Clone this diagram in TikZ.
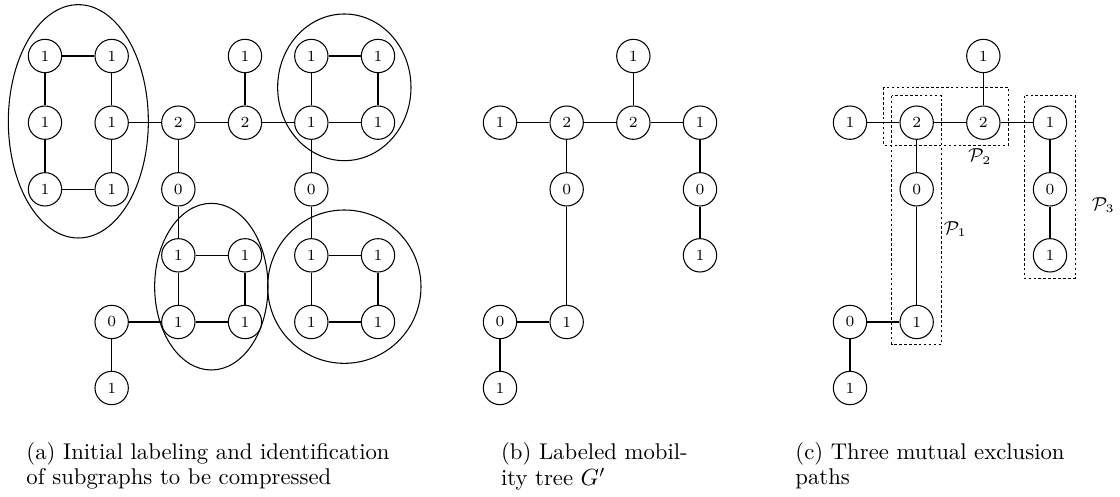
\documentclass[tikz,border=0pt]{standalone}
\usetikzlibrary{positioning}
\begin{document}
\begin{tikzpicture}[
  v/.style={circle,draw,line width=0.45pt,minimum size=0.5cm,inner sep=0pt,font=\fontsize{6.6}{7.5}\selectfont},
  e/.style={line width=0.45pt},
  grp/.style={draw,line width=0.45pt},
  pbox/.style={draw,line width=0.4pt,dash pattern=on 1.1pt off 1pt},
  plab/.style={font=\fontsize{7.8}{9}\selectfont,inner sep=0pt},
  captext/.style={anchor=base west,inner sep=0pt,font=\fontsize{9.7}{10.7}\selectfont}
]
\useasboundingbox (0,0) rectangle (16.8,-7.455);

% ---------- panel (a) ----------
\def\ya{-0.84}\def\yb{-1.84}\def\yc{-2.84}\def\yd{-3.83}\def\ye{-4.83}\def\yf{-5.82}
\node[v] (a00) at (0.675,\ya) {1};
\node[v] (a10) at (1.675,\ya) {1};
\node[v] (a01) at (0.675,\yb) {1};
\node[v] (a11) at (1.675,\yb) {1};
\node[v] (a02) at (0.675,\yc) {1};
\node[v] (a12) at (1.675,\yc) {1};
\node[v] (a21) at (2.675,\yb) {2};
\node[v] (a31) at (3.675,\yb) {2};
\node[v] (a30) at (3.675,\ya) {1};
\node[v] (a40) at (4.67,\ya) {1};
\node[v] (a50) at (5.67,\ya) {1};
\node[v] (a41) at (4.67,\yb) {1};
\node[v] (a51) at (5.67,\yb) {1};
\node[v] (a22) at (2.675,\yc) {0};
\node[v] (a42) at (4.67,\yc) {0};
\node[v] (a23) at (2.675,\yd) {1};
\node[v] (a33) at (3.675,\yd) {1};
\node[v] (a24) at (2.675,\ye) {1};
\node[v] (a34) at (3.675,\ye) {1};
\node[v] (a14) at (1.675,\ye) {0};
\node[v] (a15) at (1.675,\yf) {1};
\node[v] (a43) at (4.67,\yd) {1};
\node[v] (a53) at (5.67,\yd) {1};
\node[v] (a44) at (4.67,\ye) {1};
\node[v] (a54) at (5.67,\ye) {1};

\draw[e] (a00)--(a10) (a00)--(a01) (a01)--(a02) (a02)--(a12) (a10)--(a11) (a11)--(a12);
\draw[e] (a11)--(a21) (a21)--(a31) (a30)--(a31) (a31)--(a41);
\draw[e] (a40)--(a50) (a40)--(a41) (a50)--(a51) (a41)--(a51);
\draw[e] (a21)--(a22) (a22)--(a23) (a41)--(a42) (a42)--(a43);
\draw[e] (a23)--(a33) (a23)--(a24) (a33)--(a34) (a24)--(a34);
\draw[e] (a14)--(a24) (a14)--(a15);
\draw[e] (a43)--(a53) (a43)--(a44) (a53)--(a54) (a44)--(a54);

\draw[grp] (1.175,-1.82) ellipse [x radius=1.05cm, y radius=1.75cm];
\draw[grp] (5.165,-1.31) ellipse [x radius=1.0cm, y radius=1.1cm];
\draw[grp] (3.17,-4.3) ellipse [x radius=0.85cm, y radius=1.25cm];
\draw[grp] (5.165,-4.3) circle [radius=1.15cm];

% ---------- panel (b) ----------
\node[v] (b01) at (7.5,\yb) {1};
\node[v] (b11) at (8.5,\yb) {2};
\node[v] (b21) at (9.5,\yb) {2};
\node[v] (b31) at (10.5,\yb) {1};
\node[v] (b20) at (9.5,\ya) {1};
\node[v] (b12) at (8.5,\yc) {0};
\node[v] (b14) at (8.5,\ye) {1};
\node[v] (b04) at (7.5,\ye) {0};
\node[v] (b05) at (7.5,\yf) {1};
\node[v] (b32) at (10.5,\yc) {0};
\node[v] (b33) at (10.5,\yd) {1};
\draw[e] (b01)--(b11) (b11)--(b21) (b21)--(b31) (b20)--(b21);
\draw[e] (b11)--(b12) (b12)--(b14) (b04)--(b14) (b04)--(b05);
\draw[e] (b31)--(b32) (b32)--(b33);

% ---------- panel (c) ----------
\node[v] (c01) at (12.75,\yb) {1};
\node[v] (c11) at (13.75,\yb) {2};
\node[v] (c21) at (14.75,\yb) {2};
\node[v] (c31) at (15.75,\yb) {1};
\node[v] (c20) at (14.75,\ya) {1};
\node[v] (c12) at (13.75,\yc) {0};
\node[v] (c14) at (13.75,\ye) {1};
\node[v] (c04) at (12.75,\ye) {0};
\node[v] (c05) at (12.75,\yf) {1};
\node[v] (c32) at (15.75,\yc) {0};
\node[v] (c33) at (15.75,\yd) {1};
\draw[e] (c01)--(c11) (c11)--(c21) (c21)--(c31) (c20)--(c21);
\draw[e] (c11)--(c12) (c12)--(c14) (c04)--(c14) (c04)--(c05);
\draw[e] (c31)--(c32) (c32)--(c33);

\draw[pbox] (13.375,-1.435) rectangle (14.125,-5.16);
\draw[pbox] (13.25,-1.31) rectangle (15.125,-2.175);
\draw[pbox] (15.36,-1.435) rectangle (16.125,-4.17);

\node[plab] (p1) at (14.33,-3.44) {$\mathcal{P}_1$};
\node[plab] (p2) at (14.7,-2.35) {$\mathcal{P}_2$};
\node[plab] (p3) at (16.55,-3.075) {$\mathcal{P}_3$};

% ---------- captions ----------
\node[captext] (capa1) at (0.39,-6.9) {(a) Initial labeling and identification};
\node[captext] (capa2) at (0.39,-7.275) {of subgraphs to be compressed};
\node[captext] (capb1) at (7.51,-6.9) {(b) Labeled mobil-};
\node[captext] (capb2) at (7.51,-7.29) {ity tree $G'$};
\node[captext] (capc1) at (11.925,-6.9) {(c) Three mutual exclusion};
\node[captext] (capc2) at (11.925,-7.275) {paths};
\end{tikzpicture}
\end{document}
